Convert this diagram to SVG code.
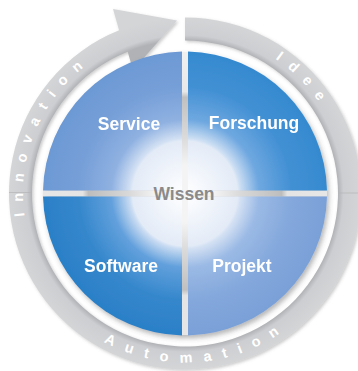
<svg xmlns="http://www.w3.org/2000/svg" width="358" height="371" viewBox="0 0 358 371">
  <style>
    .lbl { font-family: "Liberation Sans", Arial, sans-serif; font-weight: bold; font-size: 17.5px; fill: #ffffff; text-anchor: middle; }
    .center { fill: #8a8a8a; }
    .ring { font-family: "Liberation Sans", Arial, sans-serif; font-weight: bold; font-size: 14.5px; fill: #ffffff; }
  </style>
  <defs>
    <filter id="shadow" x="-10%" y="-10%" width="125%" height="125%">
      <feDropShadow dx="2" dy="3" stdDeviation="2.5" flood-color="#4a4a4a" flood-opacity="0.4"/>
    </filter>
    <filter id="ringShadow" x="-10%" y="-10%" width="125%" height="125%">
      <feDropShadow dx="1.5" dy="1.5" stdDeviation="1.5" flood-color="#6a6a6a" flood-opacity="0.35"/>
    </filter>
    <radialGradient id="gRing" gradientUnits="userSpaceOnUse" cx="185" cy="193.5" r="176">
      <stop offset="0.869" stop-color="#b0b2b5"/>
      <stop offset="0.9" stop-color="#cdced1"/>
      <stop offset="1" stop-color="#d4d5d7"/>
    </radialGradient>
    <radialGradient id="gService" gradientUnits="userSpaceOnUse" cx="185" cy="193.5" r="142">
      <stop offset="0" stop-color="#ffffff"/>
      <stop offset="0.37" stop-color="#e3ebf7"/>
      <stop offset="0.39" stop-color="#d2e0f3"/>
      <stop offset="0.52" stop-color="#8fb1e1"/>
      <stop offset="0.75" stop-color="#769fd8"/>
      <stop offset="1" stop-color="#6c99d4"/>
    </radialGradient>
    <radialGradient id="gForschung" gradientUnits="userSpaceOnUse" cx="185" cy="193.5" r="142">
      <stop offset="0" stop-color="#ffffff"/>
      <stop offset="0.37" stop-color="#e3ebf7"/>
      <stop offset="0.39" stop-color="#cddff3"/>
      <stop offset="0.52" stop-color="#6fa8e0"/>
      <stop offset="0.75" stop-color="#4290d4"/>
      <stop offset="1" stop-color="#358acf"/>
    </radialGradient>
    <radialGradient id="gSoftware" gradientUnits="userSpaceOnUse" cx="185" cy="193.5" r="142">
      <stop offset="0" stop-color="#ffffff"/>
      <stop offset="0.37" stop-color="#e3ebf7"/>
      <stop offset="0.39" stop-color="#cadcf2"/>
      <stop offset="0.52" stop-color="#62a0dc"/>
      <stop offset="0.75" stop-color="#3587cc"/>
      <stop offset="1" stop-color="#2b80c7"/>
    </radialGradient>
    <radialGradient id="gProjekt" gradientUnits="userSpaceOnUse" cx="185" cy="193.5" r="142">
      <stop offset="0" stop-color="#ffffff"/>
      <stop offset="0.37" stop-color="#e3ebf7"/>
      <stop offset="0.39" stop-color="#d4e1f3"/>
      <stop offset="0.52" stop-color="#9bbae5"/>
      <stop offset="0.75" stop-color="#84a8dc"/>
      <stop offset="1" stop-color="#7aa0d8"/>
    </radialGradient>
    <linearGradient id="gGapH" gradientUnits="userSpaceOnUse" x1="43" y1="0" x2="327" y2="0">
      <stop offset="0" stop-color="#e6e6e6"/>
      <stop offset="0.14" stop-color="#e4e4e4"/>
      <stop offset="0.16" stop-color="#bdbdbd"/>
      <stop offset="0.3" stop-color="#d8d8d8"/>
      <stop offset="0.4" stop-color="#f4f4f4"/>
      <stop offset="0.6" stop-color="#f4f4f4"/>
      <stop offset="0.7" stop-color="#d8d8d8"/>
      <stop offset="0.84" stop-color="#bdbdbd"/>
      <stop offset="0.86" stop-color="#e4e4e4"/>
      <stop offset="1" stop-color="#e6e6e6"/>
    </linearGradient>
    <linearGradient id="gGapV" gradientUnits="userSpaceOnUse" x1="0" y1="52" x2="0" y2="335">
      <stop offset="0" stop-color="#f0f0f0"/>
      <stop offset="0.14" stop-color="#e8e8e8"/>
      <stop offset="0.16" stop-color="#c0c0c0"/>
      <stop offset="0.3" stop-color="#dadada"/>
      <stop offset="0.4" stop-color="#f4f4f4"/>
      <stop offset="0.6" stop-color="#f4f4f4"/>
      <stop offset="0.7" stop-color="#dadada"/>
      <stop offset="0.84" stop-color="#c0c0c0"/>
      <stop offset="0.86" stop-color="#e4e4e4"/>
      <stop offset="1" stop-color="#e6e6e6"/>
    </linearGradient>
    <path id="arcTop" d="M44.7,274.5 A162,162 0 1 1 325.3,274.5"/>
    <path id="arcBottom" d="M38.64,278 A169,169 0 0 0 331.36,278"/>
  </defs>

  <rect width="358" height="371" fill="#ffffff"/>

  <!-- outer ring with arrow -->
  <g id="cycle-ring" filter="url(#ringShadow)">
    <path d="M185,17.5 A176,176 0 1 1 119.07,30.31 L113,9 L177,20.5 L133,70 L127.69,51.64 A153,153 0 1 0 185,40.5 Z" fill="url(#gRing)"/>
    <line x1="9" y1="192.5" x2="31" y2="192.5" stroke="#b4b5b7" stroke-width="0.7"/>
    <line x1="339" y1="193" x2="358" y2="193" stroke="#b4b5b7" stroke-width="0.7"/>
  </g>

  <g id="ring-labels" class="ring">
    <text id="label-innovation"><textPath href="#arcTop" startOffset="62.2" letter-spacing="10.4">Innovation</textPath></text>
    <text id="label-idee"><textPath href="#arcTop" startOffset="434.6" letter-spacing="10.6">Idee</textPath></text>
    <text id="label-automation"><textPath href="#arcBottom" startOffset="92.1" letter-spacing="11.6">Automation</textPath></text>
  </g>

  <!-- disc -->
  <g id="disc" filter="url(#shadow)">
    <g id="gaps">
      <rect x="43" y="190.5" width="284" height="6" fill="url(#gGapH)"/>
      <rect x="182" y="52" width="6" height="283" fill="url(#gGapV)"/>
    </g>
    <g id="node-service">
      <path d="M182,190.5 L182,51.53 A142,142 0 0 0 43.03,190.5 Z" fill="url(#gService)"/>
      <text class="lbl" x="129" y="130">Service</text>
    </g>
    <g id="node-forschung">
      <path d="M188,190.5 L188,51.53 A142,142 0 0 1 326.97,190.5 Z" fill="url(#gForschung)"/>
      <text class="lbl" x="254" y="129">Forschung</text>
    </g>
    <g id="node-software">
      <path d="M182,196.5 L43.03,196.5 A142,142 0 0 0 182,335.47 Z" fill="url(#gSoftware)"/>
      <text class="lbl" x="121" y="272">Software</text>
    </g>
    <g id="node-projekt">
      <path d="M188,196.5 L188,335.47 A142,142 0 0 0 326.97,196.5 Z" fill="url(#gProjekt)"/>
      <text class="lbl" x="242" y="272">Projekt</text>
    </g>
  </g>
  <g id="node-wissen">
    <text class="lbl center" x="184" y="200">Wissen</text>
  </g>
</svg>
